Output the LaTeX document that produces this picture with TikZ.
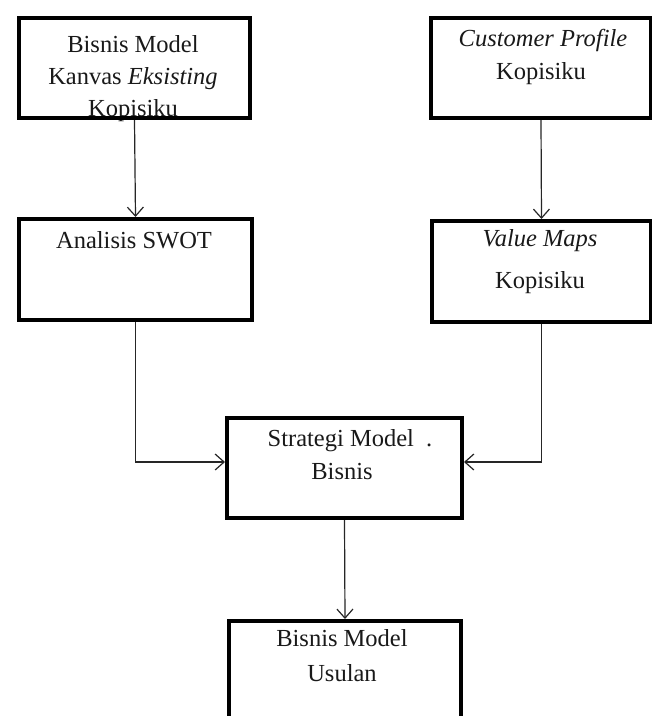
\documentclass[tikz,border=0pt]{standalone}
\usepackage{fontspec}
\setmainfont{Liberation Serif}
\usetikzlibrary{arrows.meta}
\begin{document}
\begin{tikzpicture}[x=1pt,y=-1pt,
  box/.style={draw=black, line width=4pt, rectangle, inner sep=0pt, anchor=north west},
  txt/.style={anchor=base, inner sep=0pt, font=\fontsize{24.5pt}{30pt}\selectfont, text=black!90},
  conn/.style={draw=black!85, line width=1.2pt, -{Straight Barb[length=9pt,width=16pt,line width=1.2pt]}}]
\clip (0,0) rectangle (652,716);
\fill[white] (0,0) rectangle (652,716);
% texts
\node[txt] (b1a) at (133,52) {Bisnis Model};
\node[txt] (b1b) at (133,84) {Kanvas \textit{Eksisting}};
\node[txt] (b1c) at (133,116) {Kopisiku};
\node[txt] (cpa) at (543,46) {\textit{Customer Profile}};
\node[txt] (cpb) at (541,79) {Kopisiku};
\node[txt] (ana) at (134,248) {Analisis SWOT};
\node[txt] (vma) at (540,246) {\textit{Value Maps}};
\node[txt] (vmb) at (540,288) {Kopisiku};
\node[txt] (sta) at (350,446) {Strategi Model \ .};
\node[txt] (stb) at (342,479) {Bisnis};
\node[txt] (usa) at (342,646) {Bisnis Model};
\node[txt] (usb) at (342,681) {Usulan};
% boxes (drawn over the texts)
\node[box, minimum width=231pt, minimum height=100pt] (b1) at (17,16) {};
\node[box, minimum width=220pt, minimum height=100pt] (cp) at (429,16) {};
\node[box, minimum width=233pt, minimum height=101pt] (an) at (17,217) {};
\node[box, minimum width=219pt, minimum height=101pt] (vm) at (430,219) {};
\node[box, minimum width=235pt, minimum height=100pt] (st) at (225,416) {};
\node[box, minimum width=232pt, minimum height=121pt] (us) at (227,619) {};
% connectors
\draw[conn] (b1.south) -- (an.north);
\draw[conn] (cp.south) -- (vm.north);
\draw[conn] (an.south) |- ([yshift=6pt]st.west);
\draw[conn] (vm.south) |- ([yshift=6pt]st.east);
\draw[conn] (st.south) -- (us.north);
\end{tikzpicture}
\end{document}
